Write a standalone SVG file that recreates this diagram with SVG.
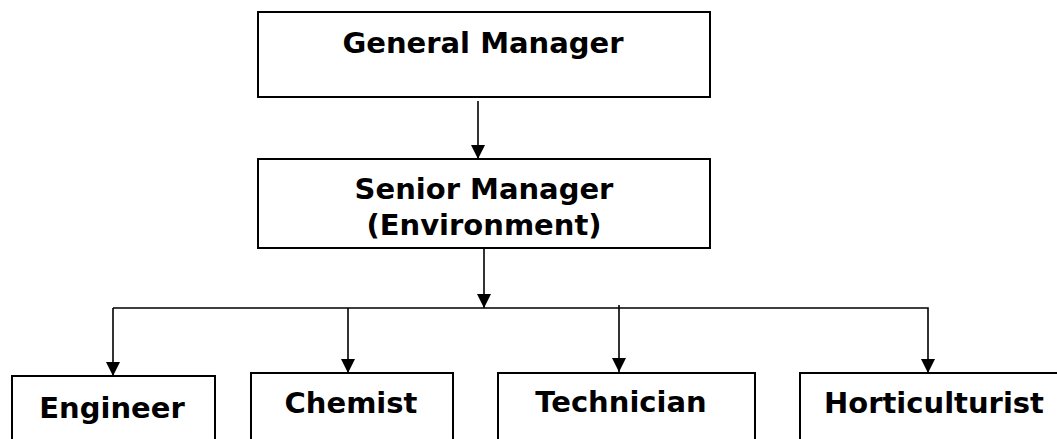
<svg xmlns="http://www.w3.org/2000/svg" width="1057" height="439" viewBox="0 0 1057 439">
<style>
.box{fill:#fff;stroke:#000;stroke-width:2}
.lbl{font-family:"DejaVu Sans",Verdana,sans-serif;font-weight:bold;font-size:29px;fill:#000;text-anchor:middle}
.ln{fill:none;stroke:#000;stroke-width:1.6}
</style>
<defs>
<marker id="ah" viewBox="0 0 14 14" refX="14" refY="7" markerWidth="14" markerHeight="14" markerUnits="userSpaceOnUse" orient="auto">
<path d="M0,0 L14,7 L0,14 Z" fill="#000"/>
</marker>
</defs>
<rect width="1057" height="439" fill="#fff"/>
<g id="connectors">
<line class="ln" x1="478" y1="101" x2="478" y2="159" marker-end="url(#ah)"/>
<line class="ln" x1="484" y1="242" x2="484" y2="308" marker-end="url(#ah)"/>
<polyline class="ln" points="113,308 928,308 928,373" marker-end="url(#ah)"/>
<line class="ln" x1="113" y1="308" x2="113" y2="376" marker-end="url(#ah)"/>
<line class="ln" x1="348" y1="308" x2="348" y2="373" marker-end="url(#ah)"/>
<line class="ln" x1="619" y1="305" x2="619" y2="372" marker-end="url(#ah)"/>
</g>
<g id="general-manager">
<rect class="box" x="258" y="12" width="452" height="85"/>
<text class="lbl" x="483" y="53">General Manager</text>
</g>
<g id="senior-manager">
<rect class="box" x="258" y="159" width="452" height="89"/>
<text class="lbl" x="484" y="199">Senior Manager</text>
<text class="lbl" x="484" y="235">(Environment)</text>
</g>
<g id="engineer">
<rect class="box" x="12" y="376" width="203" height="80"/>
<text class="lbl" x="112" y="418">Engineer</text>
</g>
<g id="chemist">
<rect class="box" x="251" y="373" width="202" height="80"/>
<text class="lbl" x="351" y="413">Chemist</text>
</g>
<g id="technician">
<rect class="box" x="498" y="373" width="257" height="80"/>
<text class="lbl" x="621" y="412">Technician</text>
</g>
<g id="horticulturist">
<rect class="box" x="800" y="373" width="270" height="80"/>
<text class="lbl" x="934" y="413">Horticulturist</text>
</g>
</svg>
